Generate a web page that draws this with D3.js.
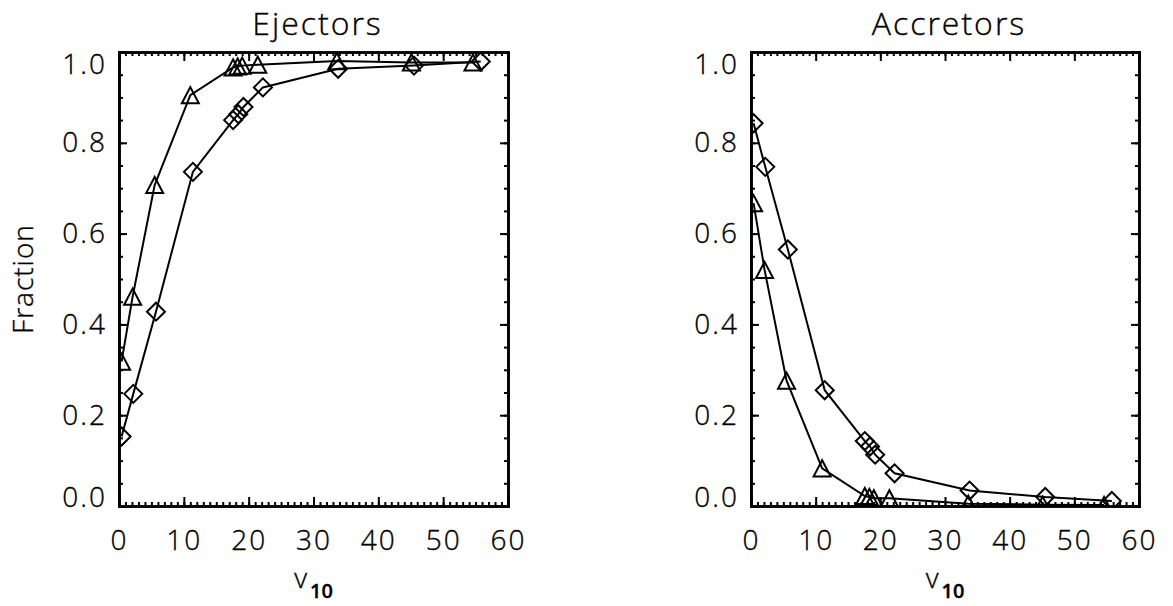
<!DOCTYPE html>
<html>
<head>
<meta charset="utf-8">
<script src="https://cdn.jsdelivr.net/npm/d3@7"></script>
<style>
  body { margin: 0; background: #fff; }
  text { font-family: "Open Sans", "DejaVu Sans", sans-serif; font-weight: 300; fill: #000; stroke: #000; stroke-width: 0.35px; }
</style>
</head>
<body>
<svg id="chart" width="1173" height="606"></svg>
<script>
// v10 positions of the points (triangle and diamond series sit slightly apart)
const triX = [0.4, 2.1, 5.5, 11.0, 17.6, 18.3, 19.0, 21.4, 33.6, 45.1, 54.6]
const diaX = [0.4, 2.2, 5.7, 11.4, 17.6, 18.4, 19.2, 22.2, 33.8, 45.5, 55.8]

// Ejectors
const ejectTri = [0.318, 0.461, 0.707, 0.905, 0.966, 0.968, 0.970, 0.972, 0.980, 0.977, 0.977]
const ejectDia = [0.153, 0.247, 0.428, 0.736, 0.850, 0.863, 0.879, 0.922, 0.963, 0.970, 0.979]

// Accretors
const accrTri = [0.667, 0.520, 0.276, 0.083, 0.022, 0.020, 0.017, 0.017, 0.005, 0.003, 0.002]
const accrDia = [0.843, 0.747, 0.565, 0.255, 0.143, 0.131, 0.113, 0.072, 0.034, 0.020, 0.011]

const xTicks = [0, 10, 20, 30, 40, 50, 60]
const yTicks = [0, 0.2, 0.4, 0.6, 0.8, 1.0]
const xDomain = [0, 60]
const yDomain = [0, 1]

const svg = d3.select('#chart')
svg.append('rect').attr('width', 1173).attr('height', 606).attr('fill', '#fff')

let plotTop = 52, plotBottom = 506
let fontSize = 28

function drawPanel(id, left, right, title, tri, dia, yLabel) {
  let x = d3.scaleLinear().domain(xDomain).range([left, right])
  let y = d3.scaleLinear().domain(yDomain).range([plotBottom, plotTop])
  let g = svg.append('g')

  g.append('clipPath').attr('id', 'clip' + id)
    .append('rect')
    .attr('x', left).attr('y', plotTop)
    .attr('width', right - left).attr('height', plotBottom - plotTop)

  let xMinor = d3.range(0, 61, 1)
  let yMinor = d3.range(0, 1.0001, 0.05)

  // minor ticks first, no labels
  let minorBottom = d3.axisBottom(x).tickValues(xMinor).tickSize(-4).tickFormat('')
  let minorTop = d3.axisTop(x).tickValues(xMinor).tickSize(-4).tickFormat('')
  let minorLeft = d3.axisLeft(y).tickValues(yMinor).tickSize(-4).tickFormat('')
  let minorRight = d3.axisRight(y).tickValues(yMinor).tickSize(-4).tickFormat('')

  g.append('g').attr('transform', `translate(0,${plotBottom})`).call(minorBottom)
  g.append('g').attr('transform', `translate(0,${plotTop})`).call(minorTop)
  g.append('g').attr('transform', `translate(${left},0)`).call(minorLeft)
  g.append('g').attr('transform', `translate(${right},0)`).call(minorRight)

  let xAxis = g.append('g')
    .attr('transform', `translate(0,${plotBottom})`)
    .call(d3.axisBottom(x).tickValues(xTicks).tickSize(-9).tickPadding(24).tickFormat(d3.format('d')))
  g.append('g')
    .attr('transform', `translate(0,${plotTop})`)
    .call(d3.axisTop(x).tickValues(xTicks).tickSize(-9).tickFormat(''))
  let yAxis = g.append('g')
    .attr('transform', `translate(${left},0)`)
    .call(d3.axisLeft(y).tickValues(yTicks).tickSize(-8).tickPadding(12).tickFormat(d3.format('.1f')))
  g.append('g')
    .attr('transform', `translate(${right},0)`)
    .call(d3.axisRight(y).tickValues(yTicks).tickSize(-8).tickFormat(''))

  g.selectAll('.domain').attr('stroke', '#000').attr('stroke-width', 2.6)
  g.selectAll('.tick line').attr('stroke', '#000').attr('stroke-width', 2)
  g.selectAll('.tick text')
    .style('font-size', fontSize + 'px')
    .style('letter-spacing', '2px')
    .attr('fill', '#000')

  // IDL keeps the end labels inside the axis range
  yAxis.selectAll('.tick text')
    .attr('dy', d => d === 0 ? '-0.0em' : d === 1 ? '0.75em' : '0.32em')

  // data
  let line = d3.line().x(d => x(d[0])).y(d => y(d[1]))
  let plot = g.append('g').attr('clip-path', `url(#clip${id})`)

  let triPts = triX.map((v, i) => [v, tri[i]])
  let diaPts = diaX.map((v, i) => [v, dia[i]])

  plot.append('path').datum(triPts).attr('d', line)
    .attr('fill', 'none').attr('stroke', '#000').attr('stroke-width', 2)
  plot.append('path').datum(diaPts).attr('d', line)
    .attr('fill', 'none').attr('stroke', '#000').attr('stroke-width', 2)

  let s = 8.5
  plot.selectAll('.tri').data(triPts).enter()
    .append('path')
    .attr('d', d => `M${x(d[0]) - s},${y(d[1]) + s * 0.95}L${x(d[0])},${y(d[1]) - s * 0.95}L${x(d[0]) + s},${y(d[1]) + s * 0.95}Z`)
    .attr('fill', 'none').attr('stroke', '#000').attr('stroke-width', 2)
    .attr('stroke-linejoin', 'miter')

  let r = 9
  plot.selectAll('.dia').data(diaPts).enter()
    .append('path')
    .attr('d', d => `M${x(d[0]) - r},${y(d[1])}L${x(d[0])},${y(d[1]) - r}L${x(d[0]) + r},${y(d[1])}L${x(d[0])},${y(d[1]) + r}Z`)
    .attr('fill', 'none').attr('stroke', '#000').attr('stroke-width', 2)

  // title
  g.append('text')
    .attr('x', (left + right) / 2 + 4)
    .attr('y', 35)
    .attr('text-anchor', 'middle')
    .style('font-size', '32px')
    .style('letter-spacing', '2px')
    .text(title)

  // x label v_10
  let xl = g.append('text')
    .attr('x', (left + right) / 2)
    .attr('y', 588)
    .attr('text-anchor', 'middle')
    .style('font-size', fontSize + 'px')
  xl.append('tspan').text('v')
  xl.append('tspan').attr('dy', 10).attr('dx', 3)
    .style('font-size', '20px').style('font-weight', 600).text('10')

  if (yLabel) {
    g.append('text')
      .attr('transform', `translate(33,${(plotTop + plotBottom) / 2}) rotate(-90)`)
      .attr('text-anchor', 'middle')
      .style('font-size', fontSize + 'px')
      .style('letter-spacing', '1px')
      .text(yLabel)
  }
}

drawPanel('a', 119, 508, 'Ejectors', ejectTri, ejectDia, 'Fraction')
drawPanel('b', 751, 1139, 'Accretors', accrTri, accrDia, null)
</script>
</body>
</html>
